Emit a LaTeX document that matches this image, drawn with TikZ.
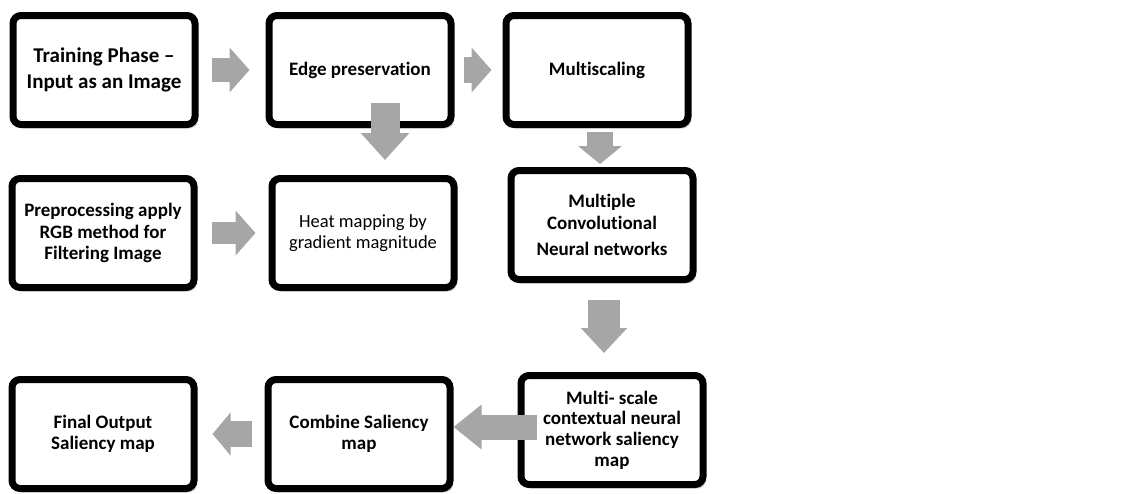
\documentclass[tikz,border=0pt]{standalone}
\usepackage{fontspec}
\setmainfont{Carlito}[Ligatures=NoCommon]
\usetikzlibrary{arrows.meta,shadows}
\definecolor{arrowgray}{HTML}{A6A6A6}
\tikzset{
    box/.style={draw, line width=7pt, rounded corners=8pt, fill=white,
        minimum width=182pt, minimum height=109pt, align=center,
        font=\bfseries\fontsize{19}{21.5}\selectfont,
        drop shadow={opacity=0.3, shadow xshift=3pt, shadow yshift=-4pt}},
    flow/.style={line width=24pt, draw=arrowgray, -{Triangle[length=20pt,width=44pt]}}
}
\begin{document}
\begin{tikzpicture}[x=1pt,y=1pt]
        \useasboundingbox (0,0) rectangle (1142,-493);
        \node [box, font=\bfseries\fontsize{21}{26}\selectfont] (train) at (104,-70) {Training Phase --\\Input as an Image};
        \node [box] (edge) at (360,-70) {Edge preservation};
        \node [box] (multi) at (597,-70) {Multiscaling};
        \node [box] (prep) at (103,-233) {Preprocessing apply\\RGB method for\\Filtering Image};
        \node [box, font=\fontsize{18.5}{21}\selectfont] (heat) at (363,-233) {Heat mapping by\\gradient magnitude};
        \node [box] (cnn) at (602,-225) {Multiple\\Convolutional\\[5pt]Neural networks};
        \node [box] (final) at (103,-434) {Final Output\\Saliency map};
        \node [box] (combine) at (359,-434) {Combine Saliency\\map};
        \node [box, font=\bfseries\fontsize{19}{20.7}\selectfont] (mscale) at (612,-430) {Multi- scale\\contextual neural\\network saliency\\map};
        \draw [flow, shorten <=13pt, shorten >=16pt] (train.east) -- (edge.west);
        \draw [flow, line width=26pt, shorten <=9pt, shorten >=11pt] (edge.east) -- (multi.west);
        \draw [flow, line width=29pt, -{Triangle[length=27pt,width=47pt]}, shorten >=15pt] ([xshift=25pt,yshift=25pt]edge.south) -- ([xshift=25pt]edge.south |- heat.north);
        \draw [flow, line width=26pt, -{Triangle[length=18pt,width=43pt]}, shorten <=4pt, shorten >=3pt] ([xshift=3pt]multi.south) -- ([xshift=3pt]multi.south |- cnn.north);
        \draw [flow, line width=22pt, shorten <=14pt, shorten >=13pt] (prep.east) -- (heat.west);
        \draw [flow, line width=32pt, -{Triangle[length=25pt,width=45pt]}, shorten <=17pt, shorten >=19pt] ([xshift=2pt]cnn.south) -- ([xshift=2pt]cnn.south |- mscale.north);
        \draw [flow, line width=25pt, -{Triangle[length=28pt,width=43pt]}] ([xshift=19pt,yshift=3pt]mscale.west) -- ([yshift=3pt]mscale.west -| combine.east);
        \draw [flow, line width=26pt, -{Triangle[length=18pt,width=42pt]}, shorten <=13pt, shorten >=15pt] (combine.west) -- (final.east);
\end{tikzpicture}
\end{document}
